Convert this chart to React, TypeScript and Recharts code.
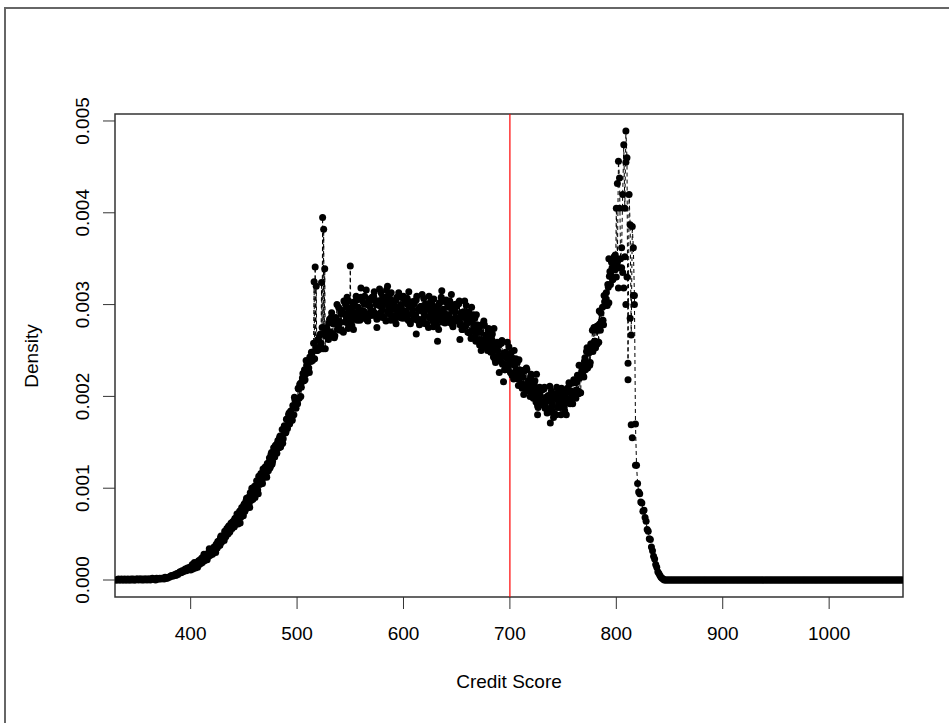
import React from 'react';
import { ComposedChart, Line, XAxis, YAxis, ReferenceLine, ReferenceArea } from 'recharts';

// Density per credit score (units of 1e-5), one value per whole score starting at 330
const SCORE_START = 330;
const densityLowTail = [
  0,0,1,0,0,1,0,0,1,0,
  0,1,0,0,1,0,1,0,0,1,
  1,0,1,1,0,1,0,1,1,0,
  1,1,0,1,2,1,1,0,2,1,
  1,2,1,2,2,1,3,2,2,3,
  3,4,5,4,5,6,5,7,6,8,
  9,8,10,9,11,12,10,13,12,14,
];
const densityRise = [
  11,15,12,17,14,18,16,20,17,22,
  22,19,25,21,27,23,29,26,31,28,
  33,30,36,32,39,35,42,38,46,41,
  48,44,53,47,56,50,59,53,62,56,
  64,58,67,61,72,64,75,68,79,72,
  82,75,86,79,90,83,95,87,99,91,
  102,94,108,98,113,104,116,108,121,112,
  123,114,127,119,133,124,139,129,144,134,
  147,138,152,144,157,147,164,154,168,160,
  175,165,180,170,184,176,190,180,196,187,
  195,209,198,214,210,220,217,229,224,234,
  236,231,243,238,248,241,325,341,320,250,
  262,253,268,324,395,382,339,266,274,263,
];
const densityPlateau = [
  280,268,286,265,279,264,285,281,273,297,
  280,294,272,290,304,281,287,297,274,293,
  342,281,298,273,303,288,305,286,293,283,
  308,292,285,301,290,316,283,300,306,292,
  305,292,309,288,301,284,304,299,290,313,
  295,308,286,303,316,292,297,307,283,302,
  299,288,304,279,308,292,309,289,296,285,
  309,293,285,301,288,314,281,297,303,289,
  301,288,305,283,295,278,298,293,284,307,
  288,301,279,296,309,285,290,300,276,295,
  293,282,298,273,302,287,304,284,291,280,
  305,289,281,297,285,311,278,294,300,286,
  298,284,301,278,291,273,292,286,277,299,
  280,292,269,285,297,272,276,285,260,278,
  274,262,277,250,278,262,278,257,263,250,
  274,257,248,262,249,274,240,255,259,244,
  256,242,258,235,247,229,248,242,232,254,
];
const densityValley = [
  235,247,223,239,250,225,229,237,212,229,
  226,214,228,202,229,213,229,207,213,200,
  224,207,198,212,199,224,190,205,210,195,
  207,193,208,187,199,182,201,195,186,206,
  190,203,181,198,210,188,193,204,180,199,
  198,188,204,180,209,195,213,194,202,192,
  218,204,198,216,206,234,204,223,232,222,
  238,229,249,231,247,234,257,255,249,275,
  260,276,257,277,293,272,282,297,278,303,
];
const densityPeak = [
  307,301,322,302,336,332,340,328,352,338,
  405,346,456,438,350,362,420,474,405,489,
  460,236,420,387,267,385,362,310,170,125,
  105,96,94,85,84,75,76,68,64,55,
  53,45,44,36,32,26,23,17,14,9,
  7,5,3,2,1,0,
];
const densityHighTail = [
  0,0,0,0,0,0,0,0,0,0, 0,0,0,0,0,0,0,0,0,0,
  0,0,0,0,0,0,0,0,0,0, 0,0,0,0,0,0,0,0,0,0,
  0,0,0,0,0,0,0,0,0,0, 0,0,0,0,0,0,0,0,0,0,
  0,0,0,0,0,0,0,0,0,0, 0,0,0,0,0,0,0,0,0,0,
  0,0,0,0,0,0,0,0,0,0, 0,0,0,0,0,0,0,0,0,0,
  0,0,0,0,0,0,0,0,0,0, 0,0,0,0,0,0,0,0,0,0,
  0,0,0,0,0,0,0,0,0,0, 0,0,0,0,0,0,0,0,0,0,
  0,0,0,0,0,0,0,0,0,0, 0,0,0,0,0,0,0,0,0,0,
  0,0,0,0,0,0,0,0,0,0, 0,0,0,0,0,0,0,0,0,0,
  0,0,0,0,0,0,0,0,0,0, 0,0,0,0,0,0,0,0,0,0,
  0,0,0,0,0,0,0,0,0,0, 0,0,0,0,0,0,0,0,0,0,
  0,0,0,0,
];

// Density at half scores (400.5 … 799.5), units of 1e-5
const HALF_START = 400.5;
const densityHalfSteps = [
  12,17,14,19,13,18,14,21,20,18,
  24,21,28,22,26,22,29,34,27,31,
  28,35,36,30,38,42,38,38,48,43,
  48,43,49,53,50,58,52,57,57,63,
  58,67,63,72,61,70,62,76,75,70,
  83,77,89,79,86,79,91,100,88,93,
  90,101,104,94,106,112,105,105,120,113,
  120,112,122,128,122,137,126,136,135,146,
  139,149,145,155,145,155,149,164,164,161,
  175,169,182,172,180,174,188,199,188,195,
  192,208,213,200,216,225,217,218,239,229,
  238,226,240,248,239,258,241,253,250,262,
  251,267,258,275,252,269,252,275,271,262,
  284,270,291,268,279,266,286,300,275,282,
  272,290,293,270,290,300,283,280,304,287,
  296,277,292,302,285,309,283,297,291,306,
  288,304,293,309,285,300,282,304,298,288,
  308,293,314,290,300,285,304,317,291,297,
  286,303,306,282,301,310,293,289,313,295,
  303,283,298,307,289,313,286,300,293,307,
  289,304,292,307,283,298,279,301,294,284,
  304,289,309,284,294,279,298,311,284,290,
  279,296,299,275,294,303,286,282,306,288,
  297,277,292,301,284,308,281,295,288,303,
  285,300,289,304,280,295,276,298,292,282,
  301,285,304,280,289,273,292,304,277,282,
  270,286,288,263,281,289,271,266,289,270,
  277,256,270,278,259,282,254,267,259,272,
  253,267,255,268,243,257,237,258,250,239,
  258,242,261,236,245,229,247,259,232,237,
  226,241,241,219,234,241,224,219,240,221,
  228,209,221,228,211,231,206,217,209,221,
  204,216,205,217,194,207,188,207,201,191,
  208,193,210,189,197,183,199,211,187,192,
  182,198,200,180,197,205,190,188,209,193,
  201,184,199,207,193,215,192,206,200,215,
  200,215,207,223,203,220,204,227,226,221,
  242,231,253,235,248,237,257,272,252,260,
  253,272,277,259,279,291,280,283,310,299,
  313,299,319,331,322,346,327,338,342,351,
];

// Additional scattered observations (score, density in 1e-5)
const extraScores = [547, 560, 575, 585, 612, 632, 636, 653, 690, 694, 726, 738, 741,
  793, 797, 799, 800, 801, 802, 803, 803, 805, 806, 807, 808, 809, 809, 810,
  811, 813, 814, 815, 816, 817, 818];
const extraValues = [308, 318, 275, 320, 268, 260, 315, 262, 226, 216, 180, 171, 177,
  350, 350, 354, 330, 432, 318, 340, 405, 340, 335, 318, 352, 455, 300, 330,
  218, 285, 169, 155, 310, 300, 125];

const xTicks = [400, 500, 600, 700, 800, 900, 1000];
const yTicks = [0, 0.001, 0.002, 0.003, 0.004, 0.005];
const cutoffScore = 700;
const xLabel = 'Credit Score';
const yLabel = 'Density';

const X_DOMAIN: [number, number] = [328.9, 1069.4];
const Y_DOMAIN: [number, number] = [-0.000185, 0.005076];

const allDensity = [
  ...densityLowTail, ...densityRise, ...densityPlateau,
  ...densityValley, ...densityPeak, ...densityHighTail,
];
const data = [
  ...allDensity.map((v, i) => ({ score: SCORE_START + i, density: v / 100000 })),
  ...densityHalfSteps.map((v, i) => ({ score: HALF_START + i, density: v / 100000 })),
].sort((a, b) => a.score - b.score);
const extraData = extraScores.map((s, i) => ({ score: s, density: extraValues[i] / 100000 }));

const FONT = '"Liberation Sans", Arial, Helvetica, sans-serif';

const YTick = (props: any) => {
  const { x, y, payload } = props;
  return (
    <text x={x} y={y} transform={`rotate(-90, ${x}, ${y})`} textAnchor="middle"
      fontSize={19} fontFamily={FONT} fill="#000">
      {Number(payload.value).toFixed(3)}
    </text>
  );
};

export default function App() {
  const dot = { r: 3.5, fill: '#000', stroke: 'none' };
  return (
    <div style={{ position: 'absolute', left: 0, top: 0, width: 949, height: 723, overflow: 'hidden', background: '#fff' }}>
      <div style={{ position: 'absolute', left: 4, top: 7, width: 1000, height: 800,
        borderLeft: '2px solid #666', borderTop: '2px solid #666' }} />
      <div style={{ position: 'absolute', left: 0, top: 0 }}>
        <ComposedChart width={949} height={723} data={data}
          margin={{ top: 114, right: 46, bottom: 76, left: 55 }}>
          <XAxis dataKey="score" type="number" domain={X_DOMAIN} allowDataOverflow
            ticks={xTicks} axisLine={false} tickSize={12} tickMargin={18} height={50}
            tickLine={{ stroke: '#333' }}
            tick={{ fontSize: 19, fill: '#000', fontFamily: FONT }} />
          <YAxis type="number" domain={Y_DOMAIN} allowDataOverflow ticks={yTicks}
            axisLine={false} tickSize={12} tickMargin={14} width={60}
            tickLine={{ stroke: '#333' }} tick={<YTick />} />
          <Line type="linear" dataKey="density" stroke="#000" strokeWidth={1}
            strokeDasharray="4 3" dot={dot} activeDot={false} isAnimationActive={false} />
          <Line type="linear" data={extraData} dataKey="density" stroke="none" strokeWidth={0}
            dot={dot} activeDot={false} isAnimationActive={false} />
          <ReferenceLine x={cutoffScore} stroke="#ff0000" strokeWidth={1.2} />
          <ReferenceArea x1={X_DOMAIN[0]} x2={X_DOMAIN[1]} y1={Y_DOMAIN[0]} y2={Y_DOMAIN[1]}
            fill="none" fillOpacity={0} stroke="#333" strokeWidth={1.5} />
        </ComposedChart>
      </div>
      <svg width={949} height={723} style={{ position: 'absolute', left: 0, top: 0, pointerEvents: 'none' }}>
        <text x={509} y={688} textAnchor="middle" fontSize={19} fontFamily={FONT} fill="#000">{xLabel}</text>
        <text x={38} y={356} transform="rotate(-90, 38, 356)" textAnchor="middle" fontSize={19} fontFamily={FONT} fill="#000">{yLabel}</text>
      </svg>
    </div>
  );
}
